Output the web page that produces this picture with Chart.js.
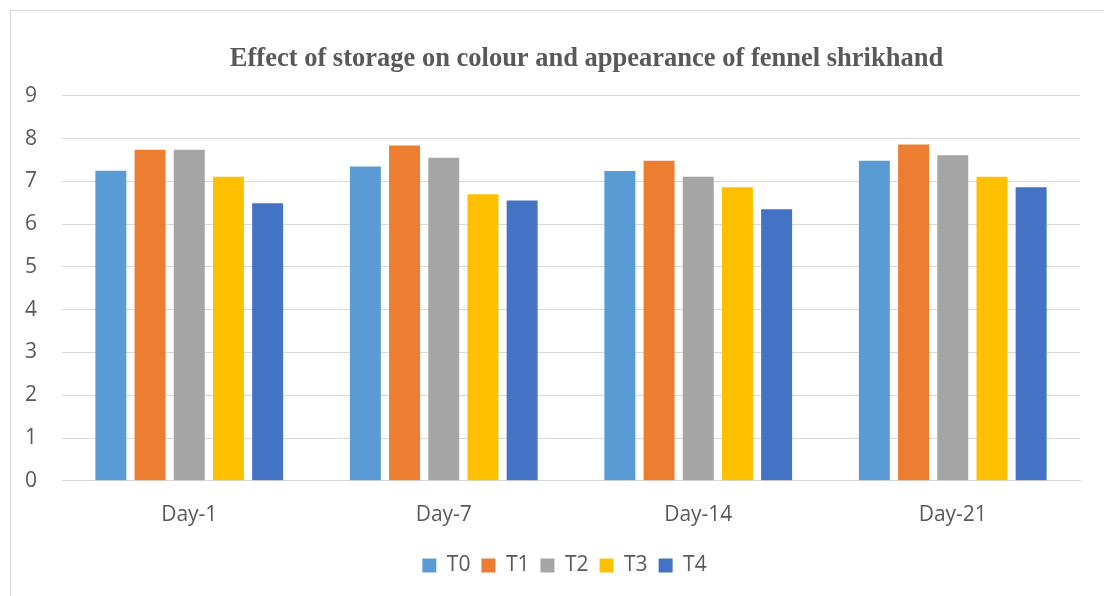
<!DOCTYPE html>
<html>
<head>
<meta charset="utf-8">
<script src="https://cdn.jsdelivr.net/npm/chart.js@4.4.0/dist/chart.umd.min.js"></script>
<style>
  html, body { margin: 0; padding: 0; background: #fff; }
  #wrap {
    position: absolute; left: 10px; top: 10px;
    width: 1100px; height: 600px;
    border: 1px solid #d9d9d9; box-sizing: border-box;
  }
  canvas { display: block; }
</style>
</head>
<body>
<div id="wrap"><canvas id="chart"></canvas></div>
<script>
// storage days on the x axis
const days = ['Day-1', 'Day-7', 'Day-14', 'Day-21'];

// treatment scores (colour & appearance)
const t0 = [7.25, 7.35, 7.24, 7.48];
const t1 = [7.74, 7.84, 7.48, 7.86];
const t2 = [7.74, 7.55, 7.11, 7.61];
const t3 = [7.11, 6.70, 6.86, 7.11];
const t4 = [6.49, 6.55, 6.35, 6.86];

const seriesNames = ['T0', 'T1', 'T2', 'T3', 'T4'];
const seriesColors = ['#5b9bd5', '#ed7d31', '#a5a5a5', '#ffc000', '#4472c4'];
const seriesValues = [t0, t1, t2, t3, t4];

const textGrey = '#595959';
const gridGrey = '#d9d9d9';
const sans = '"Open Sans", "Liberation Sans", sans-serif';

// the original chart is wider than the picture, so title & legend sit right of centre
const nudge = {
    id: 'nudge',
    afterLayout(chart) {
        if (chart.titleBlock) chart.titleBlock.left += 82;
        if (chart.legend) {
            chart.legend.left += 38;
            chart.legend.top += 2;
            chart.legend.bottom += 2;
        }
    }
};

const ctx = document.getElementById('chart').getContext('2d');
new Chart(ctx, {
    type: 'bar',
    data: {
        labels: days,
        datasets: seriesNames.map((name, i) => ({
            label: name,
            data: seriesValues[i],
            backgroundColor: seriesColors[i],
            borderWidth: 0,
            barPercentage: 0.79,
            categoryPercentage: 0.77
        }))
    },
    options: {
        responsive: true,
        maintainAspectRatio: false,
        animation: false,
        layout: { padding: { left: 0, right: 29, top: 0, bottom: 25 } },
        plugins: {
            title: {
                display: true,
                text: 'Effect of storage on colour and appearance of fennel shrikhand',
                color: textGrey,
                font: { family: '"Liberation Serif", "Times New Roman", serif', size: 26.5, weight: 'bold' },
                padding: { top: 32, bottom: 21 }
            },
            legend: {
                position: 'bottom',
                labels: {
                    color: textGrey,
                    font: { family: sans, size: 21 },
                    boxWidth: 14,
                    boxHeight: 14,
                    padding: 11
                }
            },
            tooltip: { enabled: false }
        },
        scales: {
            x: {
                grid: { display: false },
                border: { display: true, color: gridGrey, width: 1 },
                ticks: {
                    color: textGrey,
                    font: { family: sans, size: 21 },
                    padding: 14
                }
            },
            y: {
                min: 0,
                max: 9,
                afterFit: (scale) => { scale.width = 51; },
                grid: { color: gridGrey, lineWidth: 1, drawTicks: false },
                border: { display: false },
                ticks: {
                    stepSize: 1,
                    color: textGrey,
                    font: { family: sans, size: 21 },
                    padding: 25
                }
            }
        }
    },
    plugins: [nudge]
});
</script>
</body>
</html>
